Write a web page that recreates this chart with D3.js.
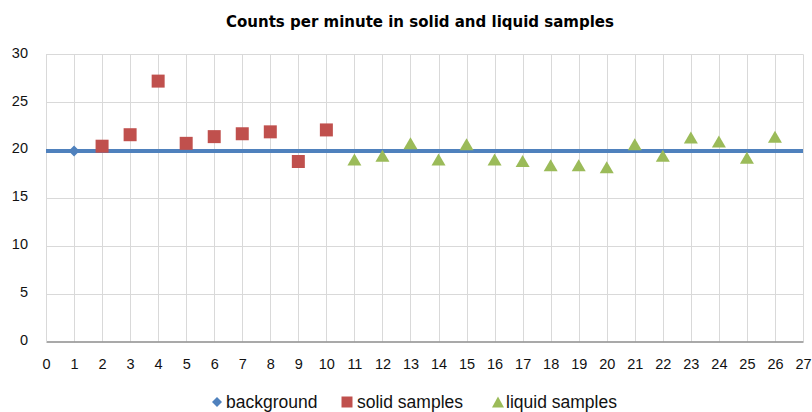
<!DOCTYPE html>
<html>
<head>
<meta charset="utf-8">
<script src="https://cdn.jsdelivr.net/npm/d3@7"></script>
<style>
  body { margin: 0; background: #fff; }
  text { font-family: "Liberation Sans", Arial, sans-serif; }
</style>
</head>
<body>
<div id="chart"></div>
<script>
// data
var bgX = [1];
var bgY = [19.9];
var solidX = [2, 3, 4, 5, 6, 7, 8, 9, 10];
var solidY = [20.4, 21.6, 27.2, 20.7, 21.4, 21.7, 21.9, 18.8, 22.1];
var liquidX = [11, 12, 13, 14, 15, 16, 17, 18, 19, 20, 21, 22, 23, 24, 25, 26];
var liquidY = [19.0, 19.4, 20.7, 19.0, 20.6, 19.0, 18.85, 18.4, 18.4, 18.2, 20.6, 19.4, 21.3, 20.9, 19.2, 21.4];
var xTicks = d3.range(0, 28);
var yTicks = [0, 5, 10, 15, 20, 25, 30];

var W = 812, H = 412;
var blue = "#4F81BD", red = "#C0504D", green = "#9BBB59";

var svg = d3.select("#chart").append("svg")
    .attr("width", W).attr("height", H);

var x = d3.scaleLinear().domain([0, 27]).range([46, 803]);
var y = d3.scaleLinear().domain([0, 30]).range([341.5, 54.3]);

// title
svg.append("text")
    .attr("x", 420).attr("y", 27)
    .attr("text-anchor", "middle")
    .style("font-family", "'DejaVu Sans', sans-serif")
    .style("font-size", "15px")
    .style("font-weight", "bold")
    .text("Counts per minute in solid and liquid samples");

// gridlines
svg.append("g").selectAll("line.h")
    .data(yTicks.filter(function (d) { return d > 0; }))
    .join("line")
    .attr("x1", x(0)).attr("x2", x(27))
    .attr("y1", function (d) { return Math.round(y(d)) + 0.5; })
    .attr("y2", function (d) { return Math.round(y(d)) + 0.5; })
    .attr("stroke", "#d9d9d9").attr("stroke-width", 1);
svg.append("g").selectAll("line.v")
    .data(xTicks.filter(function (d) { return d > 0; }))
    .join("line")
    .attr("x1", function (d) { return Math.round(x(d)) + 0.5; })
    .attr("x2", function (d) { return Math.round(x(d)) + 0.5; })
    .attr("y1", y(30)).attr("y2", y(0))
    .attr("stroke", "#d9d9d9").attr("stroke-width", 1);

// axes
var xAxis = svg.append("g")
    .attr("transform", "translate(0," + y(0) + ")")
    .call(d3.axisBottom(x).tickValues(xTicks).tickSize(0).tickPadding(17));
xAxis.select(".domain").attr("stroke", "#8c8c8c").attr("stroke-width", 1.5);
xAxis.selectAll("text").style("font-size", "14.5px").attr("fill", "#111");

var yAxis = svg.append("g")
    .attr("transform", "translate(" + x(0) + ",0)")
    .call(d3.axisLeft(y).tickValues(yTicks).tickSize(0).tickPadding(18));
yAxis.select(".domain").attr("stroke", "#d9d9d9");
yAxis.selectAll("text").style("font-size", "14.5px").attr("fill", "#111").attr("dy", "0.2em");

// background level line
svg.append("line")
    .attr("x1", x(0)).attr("x2", x(27))
    .attr("y1", y(bgY[0])).attr("y2", y(bgY[0]))
    .attr("stroke", blue).attr("stroke-width", 4);

// marker shapes
function diamond(r) { return "M0," + (-r) + "L" + r + ",0L0," + r + "L" + (-r) + ",0Z"; }
function square(s) { return "M" + (-s) + "," + (-s) + "h" + (2 * s) + "v" + (2 * s) + "h" + (-2 * s) + "Z"; }
function triangle(w, h) { return "M0," + (-h / 2) + "L" + (w / 2) + "," + (h / 2) + "L" + (-w / 2) + "," + (h / 2) + "Z"; }

svg.append("g").selectAll("path")
    .data(bgX)
    .join("path")
    .attr("transform", function (d, i) { return "translate(" + x(d) + "," + y(bgY[i]) + ")"; })
    .attr("d", diamond(5.5))
    .attr("fill", blue);

svg.append("g").selectAll("path")
    .data(solidX)
    .join("path")
    .attr("transform", function (d, i) { return "translate(" + x(d) + "," + y(solidY[i]) + ")"; })
    .attr("d", square(6.5))
    .attr("fill", red);

svg.append("g").selectAll("path")
    .data(liquidX)
    .join("path")
    .attr("transform", function (d, i) { return "translate(" + x(d) + "," + y(liquidY[i]) + ")"; })
    .attr("d", triangle(14, 12))
    .attr("fill", green);

// legend
var legend = [
    { name: "background", color: blue, shape: diamond(5), mx: 217, tx: 226 },
    { name: "solid samples", color: red, shape: square(5.5), mx: 347, tx: 357 },
    { name: "liquid samples", color: green, shape: triangle(12, 11), mx: 498, tx: 506 }
];
var lg = svg.append("g").selectAll("g").data(legend).join("g");
lg.append("path")
    .attr("transform", function (d) { return "translate(" + d.mx + ",402)"; })
    .attr("d", function (d) { return d.shape; })
    .attr("fill", function (d) { return d.color; });
lg.append("text")
    .attr("x", function (d) { return d.tx; })
    .attr("y", 408)
    .style("font-size", "17.5px")
    .attr("fill", "#111")
    .text(function (d) { return d.name; });
</script>
</body>
</html>
